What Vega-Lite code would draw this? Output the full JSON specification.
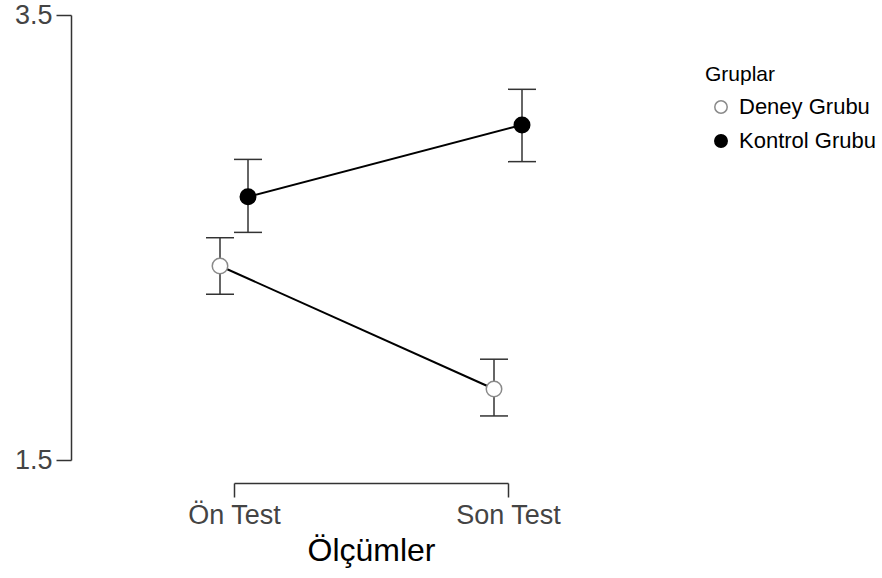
{
  "$schema": "https://vega.github.io/schema/vega-lite/v6.json",
  "autosize": {"type": "none"},
  "padding": {"left": 234, "top": 15, "right": 374, "bottom": 118},
  "width": 274,
  "height": 445,
  "background": "white",
  "config": {
    "view": {"stroke": null},
    "font": "Liberation Sans",
    "axis": {"grid": false}
  },
  "data": {
    "values": [
      {"Olcum": "Ön Test", "Grup": "Deney Grubu", "mean": 2.372, "lo": 2.245, "hi": 2.499},
      {"Olcum": "Son Test", "Grup": "Deney Grubu", "mean": 1.819, "lo": 1.698, "hi": 1.953},
      {"Olcum": "Ön Test", "Grup": "Kontrol Grubu", "mean": 2.683, "lo": 2.523, "hi": 2.851},
      {"Olcum": "Son Test", "Grup": "Kontrol Grubu", "mean": 3.006, "lo": 2.841, "hi": 3.166}
    ]
  },
  "encoding": {
    "x": {
      "field": "Olcum",
      "type": "nominal",
      "sort": ["Ön Test", "Son Test"],
      "scale": {"type": "point", "padding": 0},
      "axis": {
        "title": "Ölçümler",
        "titleFontSize": 32,
        "titleFontWeight": "normal",
        "titleColor": "#000000",
        "titlePadding": 7,
        "labelFontSize": 27,
        "labelColor": "#444444",
        "labelAngle": 0,
        "labelPadding": 5,
        "offset": 23,
        "tickSize": 14,
        "tickWidth": 1.5,
        "tickColor": "#333333",
        "domainColor": "#333333",
        "domainWidth": 1.5
      }
    },
    "xOffset": {
      "field": "Grup",
      "type": "nominal",
      "scale": {"type": "point", "range": [-14, 14], "padding": 0}
    }
  },
  "layer": [
    {
      "mark": {"type": "line", "color": "#000000", "strokeWidth": 2},
      "encoding": {
        "y": {
          "field": "mean",
          "type": "quantitative",
          "scale": {"domain": [1.5, 3.5], "nice": false, "zero": false},
          "axis": {
            "title": null,
            "values": [1.5, 3.5],
            "format": ".1f",
            "labelFontSize": 27,
            "labelColor": "#444444",
            "labelPadding": 4,
            "offset": 163,
            "tickSize": 15,
            "tickWidth": 1.5,
            "tickColor": "#333333",
            "domainColor": "#333333",
            "domainWidth": 1.5
          }
        },
        "detail": {"field": "Grup", "type": "nominal"}
      }
    },
    {
      "mark": {"type": "rule", "color": "#333333", "strokeWidth": 1.5},
      "encoding": {
        "y": {"field": "lo", "type": "quantitative"},
        "y2": {"field": "hi"}
      }
    },
    {
      "mark": {"type": "tick", "color": "#333333", "size": 28, "thickness": 1.5, "opacity": 1},
      "encoding": {"y": {"field": "hi", "type": "quantitative"}}
    },
    {
      "mark": {"type": "tick", "color": "#333333", "size": 28, "thickness": 1.5, "opacity": 1},
      "encoding": {"y": {"field": "lo", "type": "quantitative"}}
    },
    {
      "mark": {"type": "point", "shape": "circle", "filled": true, "size": 240, "strokeWidth": 1.5, "opacity": 1},
      "encoding": {
        "y": {"field": "mean", "type": "quantitative"},
        "fill": {
          "field": "Grup",
          "type": "nominal",
          "scale": {"domain": ["Deney Grubu", "Kontrol Grubu"], "range": ["#ffffff", "#000000"]},
          "legend": {
            "title": "Gruplar",
            "orient": "none",
            "legendX": 471,
            "legendY": 49,
            "padding": 0,
            "titleFontSize": 21,
            "titleFontWeight": "normal",
            "titleColor": "#000000",
            "titlePadding": 11,
            "labelFontSize": 22,
            "labelColor": "#000000",
            "labelOffset": 7,
            "symbolSize": 154,
            "symbolOffset": 5,
            "symbolStrokeWidth": 1.5,
            "rowPadding": 12
          }
        },
        "stroke": {
          "field": "Grup",
          "type": "nominal",
          "scale": {"domain": ["Deney Grubu", "Kontrol Grubu"], "range": ["#8a8a8a", "#000000"]},
          "legend": {
            "title": "Gruplar",
            "orient": "none",
            "legendX": 471,
            "legendY": 49,
            "padding": 0,
            "titleFontSize": 21,
            "titleFontWeight": "normal",
            "titleColor": "#000000",
            "titlePadding": 11,
            "labelFontSize": 22,
            "labelColor": "#000000",
            "labelOffset": 7,
            "symbolSize": 154,
            "symbolOffset": 5,
            "symbolStrokeWidth": 1.5,
            "rowPadding": 12
          }
        }
      }
    }
  ]
}
